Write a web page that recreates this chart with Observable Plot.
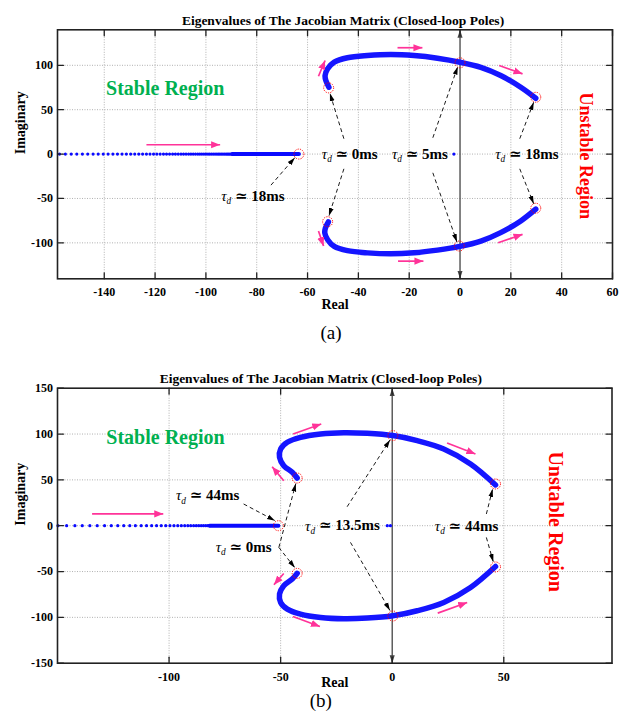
<!DOCTYPE html>
<html><head><meta charset="utf-8">
<script src="https://cdn.jsdelivr.net/npm/d3@7"></script>
<script src="https://cdn.jsdelivr.net/npm/@observablehq/plot@0.6"></script>
<style>
body{margin:0;background:#fff;}
#wrap{width:630px;height:720px;position:relative;overflow:hidden;}
#wrap svg{display:block;}
</style></head><body><div id="wrap"></div>
<script>
// ---------- Panel (a) data ----------
const titleText = "Eigenvalues of The Jacobian Matrix (Closed-loop Poles)";
const aXTicks = [-140, -120, -100, -80, -60, -40, -20, 0, 20, 40, 60];
const aYTicks = [-100, -50, 0, 50, 100];
const aUpper = [[-51.6,75.3],[-52.8,82.8],[-53.1,88.5],[-52.1,96],[-49.5,103.5],[-44.3,108.5],[-36.4,111],[-27.2,112.2],[-18.1,111],[-8.9,108],[0,103.5],[8.2,97.7],[16,88.5],[23.9,75.3],[29.8,62.9]];
const aLower = [[-51.8,-76.5],[-53,-83.5],[-53.2,-89],[-52.1,-96.5],[-49.5,-104],[-44.3,-108.8],[-36.4,-111.3],[-27.2,-112.4],[-18.1,-111.2],[-8.9,-108.2],[0,-104],[8.2,-98],[16,-88.5],[23.9,-75.3],[29.8,-62]];
const aRealDots = [-157.6,-155.3,-153.0,-150.8,-148.6,-146.5,-144.4,-142.4,-140.4,-138.5,-136.6,-134.8,-133.0,-131.3,-129.6,-128.0,-126.4,-124.9,-123.4,-122.0,-120.6,-119.3,-118.0,-116.7,-115.5,-114.3,-113.1,-112.0,-110.9,-109.8,-108.8,-107.8,-106.8,-105.9,-105.0,-104.1,-103.2,-102.4,-101.6,-100.8,-100.0,-99.2,-98.5,-97.8,-97.1,-96.4,-95.7,-95.1,-94.5,-93.9,-93.3,-92.7,-92.1,-91.6,-91.1,-90.6,-90.1,-89.6];
const aRealSolid = [-89.6, -63.4];
const aOriginDots = [-2.4];
const aCircles = [[-51.7,74.6],[-52.1,-76.2],[0,102.8],[-0.3,-103.6],[29.8,64],[29.8,-61],[-63.4,0]];
const aDashed = [[-45.7,17.3,-51.2,68.5],[-45.7,-16.6,-51.6,-69.7],[-10.7,18.4,-0.9,98.5],[-10.7,-21.1,-1.2,-99],[23.5,17.3,29,58.5],[23.5,-16.6,29,-56],[-74.4,-35,-65,-4]];
const aPink = [[-123.4,10.5,-94.4,10.5],[-55.7,87.7,-53.1,105.4],[-24.6,119.8,-14.8,119.8],[15.4,99.8,24.6,90.4],[-55.7,-86.7,-53.7,-103.6],[-24.4,-120.6,-14.4,-120.6],[15,-99.9,24.6,-90.4]];
const aNotes = [["τd ≃ 0ms",-43.4,0.3],["τd ≃ 5ms",-15.8,0.3],["τd ≃ 18ms",26.3,0.3],["τd ≃ 18ms",-81.5,-47]];
const aStable = [["Stable Region",-116,73.8]];
const aUnstable = [["Unstable Region",49.5,-2]];

// ---------- Panel (b) data ----------
const bXTicks = [-100, -50, 0, 50];
const bYTicks = [-150, -100, -50, 0, 50, 100, 150];
const bUpper = [[-42.6,52],[-44.8,58.2],[-48.6,65.5],[-50.5,74.6],[-50,83.7],[-47,91],[-41.1,96.4],[-32.1,100.1],[-21.7,101.5],[-11.2,100.8],[0.3,98.3],[11.2,92.8],[23.1,83.7],[35.1,67.4],[46.3,44.5]];
const bLower = [[-42.6,-52],[-44.8,-58.2],[-48.6,-65.5],[-50.5,-74.6],[-50,-83.7],[-47,-91],[-41.1,-96.4],[-32.1,-100.1],[-21.7,-101.5],[-11.2,-100.8],[0.3,-98.3],[11.2,-92.8],[23.1,-83.7],[35.1,-67.4],[46.3,-44.5]];
const bRealDots = [-149.8,-145.9,-142.2,-138.9,-135.5,-132.2,-128.9,-125.9,-123.0,-120.3,-117.6,-115.1,-112.5,-110.1,-107.8,-105.6,-103.5,-101.5,-99.6,-97.8,-96.1,-94.5,-93.0,-91.6,-90.3,-89.0,-87.8,-86.7,-85.6,-84.6,-83.6,-82.7,-81.8];
const bRealSolid = [-81.8, -51];
const bOriginDots = [-2.2, -0.8];
const bCircles = [[-42.6,52],[-42.6,-52],[0.3,98.3],[0.3,-98.5],[46.3,45.5],[46.3,-45],[-51,0]];
const bDashed = [[-66.6,23.7,-52.5,5.5],[-50.8,-23.7,-43.2,46],[-50.8,-23.7,-43.6,-46],[-20.2,20.7,-1,93.6],[-18.7,-18.2,-1,-92.5],[42.2,12.8,45,40],[42.2,-12.8,45.3,-39.5]];
const bPink = [[-134.5,12.8,-102.6,12.8],[-44.4,100.1,-31.8,111],[-48.6,49.1,-53.8,64.4],[24.6,90.3,37.3,78.3],[-48.6,-52.1,-53,-64.4],[-44.5,-99,-32.4,-110],[20.4,-95.4,33.6,-83.7]];
const bNotes = [["τd ≃ 44ms",-82.7,32.8],["τd ≃ 0ms",-66.6,-23.7],["τd ≃ 13.5ms",-22.3,0],["τd ≃ 44ms",33.3,-0.8]];
const bStable = [["Stable Region",-101.6,96.4]];
const bUnstable = [["Unstable Region",73.2,4.4]];

// ---------- helpers ----------
const serif = "'Liberation Serif', 'Times New Roman', 'DejaVu Serif', serif";
function head(len, wid) {
  return (color) => {
    const m = d3.create("svg:marker")
      .attr("viewBox", "0 -5 10 10")
      .attr("refX", 10).attr("refY", 0)
      .attr("markerWidth", len).attr("markerHeight", len)
      .attr("markerUnits", "userSpaceOnUse")
      .attr("orient", "auto-start-reverse");
    m.append("path").attr("d", `M0,${-wid}L10,0L0,${wid}Z`).attr("fill", color).attr("stroke", "none");
    return m.node();
  };
}
const tickShape = {draw(ctx, l) { ctx.moveTo(0, 0); ctx.lineTo(0, -l); }};
const hyphen = d => `${d}`;

function panel(c) {
  const [x0, x1] = c.xDomain, [y0, y1] = c.yDomain;
  const lnk = (data, o) => Plot.link(data, {x1: d => d[0], y1: d => d[1], x2: d => d[2], y2: d => d[3], ...o});
  const svg = Plot.plot({
    width: 630, height: c.height,
    marginTop: c.mt, marginBottom: c.mb, marginLeft: 57, marginRight: c.mr,
    x: {domain: c.xDomain, axis: null},
    y: {domain: c.yDomain, axis: null},
    style: {fontFamily: serif, fontSize: "12px", background: "white", color: "black", overflow: "visible"},
    marks: [
      Plot.gridX(c.gridX, {stroke: "#a8a8a8", strokeOpacity: 1, strokeDasharray: "1,1.5", strokeWidth: 0.9}),
      Plot.gridY(c.gridY, {stroke: "#a8a8a8", strokeOpacity: 1, strokeDasharray: "1,1.5", strokeWidth: 0.9}),
      lnk([[0, y0, 0, y1]], {stroke: "#444", strokeWidth: 1.3, markerStart: head(8, 3.2), markerEnd: head(8, 3.2)}),
      Plot.line(c.realSolid, {x: d => d, y: 0, stroke: "#0a0aff", strokeWidth: 4}),
      Plot.dot(c.realDots, {x: d => d, y: 0, r: 1.6, fill: "#0a0aff"}),
      Plot.dot(c.originDots, {x: d => d, y: 0, r: 1.6, fill: "#0a0aff"}),
      Plot.line(c.upper, {x: d => d[0], y: d => d[1], curve: "catmull-rom", stroke: "#1515ff", strokeWidth: 5.5, strokeLinecap: "round"}),
      Plot.line(c.lower, {x: d => d[0], y: d => d[1], curve: "catmull-rom", stroke: "#1515ff", strokeWidth: 5.5, strokeLinecap: "round"}),
      Plot.dot(c.circles, {x: d => d[0], y: d => d[1], r: 5, stroke: "red", strokeWidth: 1, strokeDasharray: "1.2,1.2", fill: "none"}),
      lnk(c.dashed, {stroke: "black", strokeWidth: 0.9, strokeDasharray: "4,3", markerEnd: head(8, 3)}),
      lnk(c.pink, {stroke: "#ff3399", strokeWidth: 1.7, markerEnd: head(9, 4)}),
      Plot.text(c.notes, {x: d => d[1], y: d => d[2], text: d => d[0], fontSize: 15, fontWeight: "bold", fill: "black"}),
      Plot.text(c.stable, {x: d => d[1], y: d => d[2], text: d => d[0], fontSize: c.stableSize, fontWeight: "bold", fill: "#00b050"}),
      Plot.text(c.unstable, {x: d => d[1], y: d => d[2], text: d => d[0], fontSize: c.unstableSize, fontWeight: "bold", fill: "#ff0000", rotate: 90}),
      Plot.frame({stroke: "#222", strokeWidth: 1.6}),
      Plot.vector(c.xTicks, {x: d => d, y: y0, length: 6, rotate: 0, anchor: "start", shape: tickShape, stroke: "#222", strokeWidth: 1.3}),
      Plot.vector(c.xTicks, {x: d => d, y: y1, length: 6, rotate: 180, anchor: "start", shape: tickShape, stroke: "#222", strokeWidth: 1.3}),
      Plot.vector(c.yTicks, {x: x0, y: d => d, length: 6, rotate: 90, anchor: "start", shape: tickShape, stroke: "#222", strokeWidth: 1.3}),
      Plot.vector(c.yTicks, {x: x1, y: d => d, length: 6, rotate: -90, anchor: "start", shape: tickShape, stroke: "#222", strokeWidth: 1.3}),
      Plot.axisX(c.xTicks, {anchor: "bottom", tickSize: 0, tickPadding: 9, fontWeight: "bold", fontSize: 12, label: null, tickFormat: hyphen}),
      Plot.axisY(c.yTicks, {anchor: "left", tickSize: 0, tickPadding: 4.5, fontWeight: "bold", fontSize: 12, label: null, tickFormat: hyphen}),
      Plot.text([titleText], {text: d => d, frameAnchor: "top", dy: c.titleDy, dx: c.titleDx, fontSize: 13.5, fontWeight: "bold"}),
      Plot.text(["Real"], {text: d => d, frameAnchor: "bottom", dy: c.realDy, fontSize: 14, fontWeight: "bold"}),
      Plot.text(["Imaginary"], {text: d => d, frameAnchor: "left", dx: -37, rotate: -90, fontSize: 14, fontWeight: "bold"}),
      Plot.text([c.caption], {text: d => d, frameAnchor: "bottom", dy: c.capDy, dx: c.capDx, fontSize: 19, fontWeight: "normal"})
    ]
  });
  const ns = "http://www.w3.org/2000/svg";
  svg.querySelectorAll("text").forEach(t => {
    const s = t.textContent;
    if (s.startsWith("τd")) {
      t.textContent = "";
      const a = document.createElementNS(ns, "tspan");
      a.setAttribute("font-style", "italic"); a.setAttribute("font-weight", "normal"); a.textContent = "τ";
      const b = document.createElementNS(ns, "tspan");
      b.setAttribute("font-style", "italic"); b.setAttribute("font-weight", "normal");
      b.setAttribute("font-size", "0.62em"); b.setAttribute("dy", "0.35em"); b.textContent = "d";
      const r = document.createElementNS(ns, "tspan");
      r.setAttribute("dy", "-0.22em"); r.textContent = s.slice(2);
      t.append(a, b, r);
    }
  });
  return svg;
}

const wrap = document.getElementById("wrap");
wrap.append(panel({
  height: 345, mt: 29.3, mb: 66.7, mr: 18,
  xDomain: [-158.4, 60], yDomain: [-140.5, 140],
  xTicks: aXTicks, yTicks: aYTicks,
  gridX: aXTicks.filter(v => v !== 0 && v !== 60), gridY: aYTicks,
  upper: aUpper, lower: aLower, realDots: aRealDots, realSolid: aRealSolid, originDots: aOriginDots,
  circles: aCircles, dashed: aDashed, pink: aPink, notes: aNotes, stable: aStable, unstable: aUnstable,
  stableSize: 20, unstableSize: 18,
  titleDy: -14, titleDx: 8, realDy: 30, capDy: 60, capDx: -4, caption: "(a)"
}));
wrap.append(panel({
  height: 375, mt: 42.7, mb: 57.3, mr: 18.5,
  xDomain: [-150, 98.5], yDomain: [-150, 150],
  xTicks: bXTicks, yTicks: bYTicks,
  gridX: bXTicks.filter(v => v !== 0), gridY: bYTicks.filter(v => Math.abs(v) !== 150),
  upper: bUpper, lower: bLower, realDots: bRealDots, realSolid: bRealSolid, originDots: bOriginDots,
  circles: bCircles, dashed: bDashed, pink: bPink, notes: bNotes, stable: bStable, unstable: bUnstable,
  stableSize: 20, unstableSize: 20,
  titleDy: -15, titleDx: -14, realDy: 24, capDy: 44, capDx: -14, caption: "(b)"
}));
</script></body></html>
